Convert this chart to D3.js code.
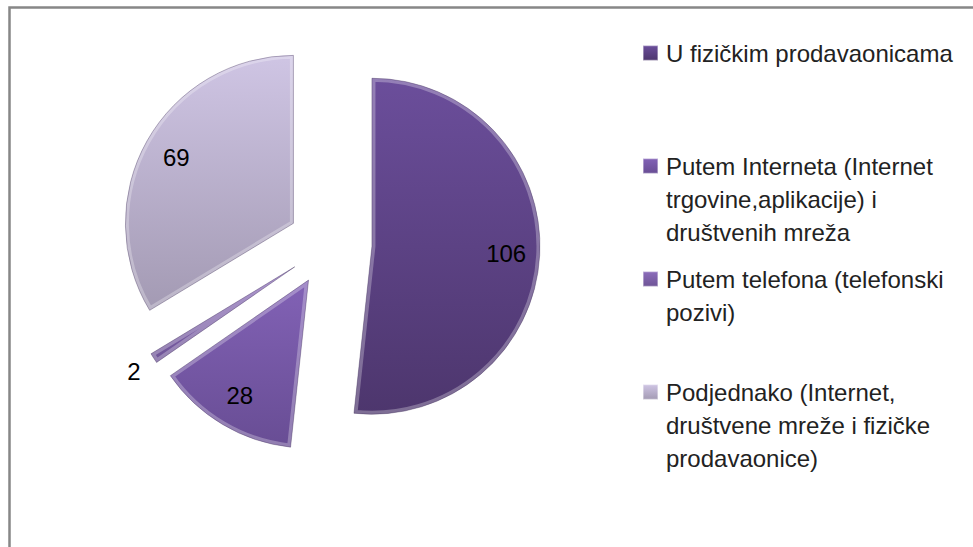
<!DOCTYPE html>
<html>
<head>
<meta charset="utf-8">
<script src="https://cdn.jsdelivr.net/npm/d3@7"></script>
<style>
  body { margin: 0; background: #fff; }
  svg { display: block; }
  text { font-family: "Liberation Sans", Arial, sans-serif; }
</style>
</head>
<body>
<svg id="chart"></svg>
<script>
// data
var categories = ["U fizičkim prodavaonicama",
                  "Putem Interneta (Internet trgovine,aplikacije) i društvenih mreža",
                  "Putem telefona (telefonski pozivi)",
                  "Podjednako (Internet, društvene mreže i fizičke prodavaonice)"];
var values = [106, 28, 2, 69];
var legendLines = [["U fizičkim prodavaonicama"],
                   ["Putem Interneta (Internet", "trgovine,aplikacije) i", "društvenih mreža"],
                   ["Putem telefona (telefonski", "pozivi)"],
                   ["Podjednako (Internet,", "društvene mreže i fizičke", "prodavaonice)"]];
var topColors = ["#6b4e9b", "#8262b6", "#8c6dbb", "#cfc5e4"];
var bottomColors = ["#4d366d", "#684d94", "#6e5496", "#a39ab3"];

var width = 973, height = 547;
var cx = 330, cy = 244, radius = 168, explode = 42;

var svg = d3.select('#chart')
            .attr("width", width)
            .attr("height", height);

svg.append("rect").attr("width", width).attr("height", height).attr("fill", "#fff");

// chart frame (top and left edges visible)
svg.append("path")
   .attr("d", "M9.5," + height + "V7.5H" + width)
   .attr("fill", "none")
   .attr("stroke", "#878787")
   .attr("stroke-width", 2.5);

var defs = svg.append("defs");
categories.forEach(function(c, i) {
  var g = defs.append("linearGradient")
              .attr("id", "grad" + i)
              .attr("x1", 0).attr("y1", 0).attr("x2", 0).attr("y2", 1);
  g.append("stop").attr("offset", "0%").attr("stop-color", topColors[i]);
  g.append("stop").attr("offset", "100%").attr("stop-color", bottomColors[i]);
});

var pie = d3.pie().sort(null).value(d => d);
var arcs = pie(values);

var arc = d3.arc().innerRadius(0).outerRadius(radius);
var labelArc = d3.arc().innerRadius(radius * 0.8).outerRadius(radius * 0.8);
var outerLabelArc = d3.arc().innerRadius(radius * 1.14).outerRadius(radius * 1.14);

function offset(d) {
  var mid = (d.startAngle + d.endAngle) / 2;
  return [explode * Math.sin(mid), -explode * Math.cos(mid)];
}

var pieG = svg.append("g").attr("transform", "translate(" + cx + "," + cy + ")");

var slices = pieG.selectAll("g.slice")
  .data(arcs)
  .enter().append("g")
  .attr("class", "slice")
  .attr("transform", d => "translate(" + offset(d) + ")");

slices.append("clipPath")
  .attr("id", (d, i) => "clip" + i)
  .append("path")
  .attr("d", arc);

slices.append("path")
  .attr("d", arc)
  .attr("fill", (d, i) => "url(#grad" + i + ")");

// soft bevel: light inner rim
slices.append("path")
  .attr("d", arc)
  .attr("fill", "none")
  .attr("stroke", "#fff")
  .attr("stroke-opacity", 0.28)
  .attr("stroke-width", 7)
  .attr("stroke-linejoin", "round")
  .attr("clip-path", (d, i) => "url(#clip" + i + ")");

slices.append("path")
  .attr("d", arc)
  .attr("fill", "none")
  .attr("stroke", "#3a2955")
  .attr("stroke-opacity", 0.45)
  .attr("stroke-width", 0.8);

// data labels
slices.append("text")
  .attr("transform", function(d) {
    var small = (d.endAngle - d.startAngle) < 0.2;
    return "translate(" + (small ? outerLabelArc : labelArc).centroid(d) + ")";
  })
  .attr("text-anchor", "middle")
  .attr("dy", "0.36em")
  .attr("font-size", 24)
  .attr("fill", "#000")
  .text(d => d.data);

// legend
var legendY = d3.scalePoint().domain(categories).range([53, 392]);
var lineH = 33;

var legend = svg.selectAll("g.legend")
  .data(categories)
  .enter().append("g")
  .attr("class", "legend")
  .attr("transform", d => "translate(0," + legendY(d) + ")");

legend.append("rect")
  .attr("x", 643).attr("y", -7.5)
  .attr("width", 15).attr("height", 15)
  .attr("fill", (d, i) => "url(#grad" + i + ")")
  .attr("stroke", "#fff")
  .attr("stroke-opacity", 0.5)
  .attr("stroke-width", 1.5);

legend.each(function(d, i) {
  var t = d3.select(this).append("text")
    .attr("x", 666)
    .attr("font-size", 24)
    .attr("fill", "#222");
  legendLines[i].forEach(function(line, j) {
    t.append("tspan")
      .attr("x", 666)
      .attr("y", j * lineH)
      .attr("dy", "0.36em")
      .text(line);
  });
});
</script>
</body>
</html>
